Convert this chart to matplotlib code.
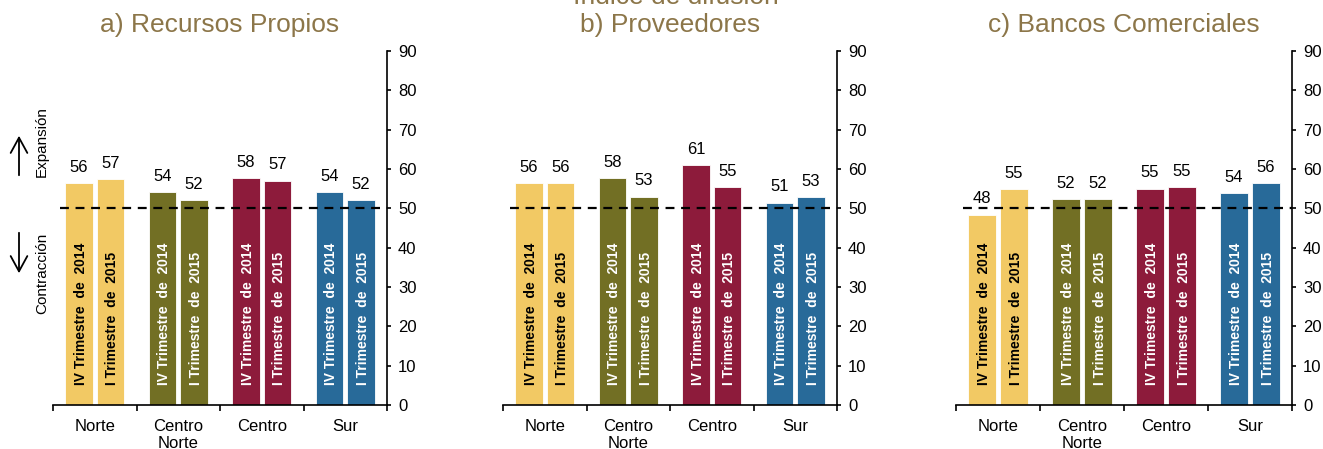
#! /usr/bin/env python
# -*- coding: utf-8 -*-
"""
Indice de difusion por region: recursos propios, proveedores y bancos
"""
# Importing Modules
import numpy as np
import matplotlib
matplotlib.use('Agg')
import matplotlib.pyplot as plt

## Data
regions      = ['Norte', 'Centro\nNorte', 'Centro', 'Sur']
period_names = ['IV Trimestre  de  2014', 'I Trimestre  de  2015']
panel_titles = ['a) Recursos Propios', 'b) Proveedores',
                'c) Bancos Comerciales']
# Values per panel: (IV 2014, I 2015) for each region
propios_iv14   = [56.4, 54.1, 57.6, 54.1]
propios_i15    = [57.4, 52.0, 57.0, 52.0]
proveed_iv14   = [56.4, 57.6, 61.0, 51.4]
proveed_i15    = [56.4, 53.0, 55.4, 52.9]
bancos_iv14    = [48.4, 52.4, 55.0, 53.9]
bancos_i15     = [54.9, 52.4, 55.4, 56.4]
yticks_vals    = [0, 10, 20, 30, 40, 50, 60, 70, 80, 90]
threshold      = 50

## Styles
region_colors = ['#F2C964', '#726F24', '#8D1B3B', '#286A99']
text_colors   = ['black', 'white', 'white', 'white']
title_color   = '#8C7649'
font_family   = ['Liberation Sans', 'DejaVu Sans']


def plot_panel(ax, vals_iv, vals_i, title):
    """
    Plots one panel of paired bars per region

    Parameters
    -----------
    ax : `matplotlib.axes.Axes`
        Axis to draw on
    vals_iv, vals_i : `list`
        Values for IV 2014 and I 2015
    title : `str`
        Title of the panel
    """
    x      = np.arange(len(regions))
    width  = 0.33
    offset = 0.19
    for kk, vals in enumerate([vals_iv, vals_i]):
        xpos = x + (2 * kk - 1) * offset
        bars = ax.bar(xpos, vals, width, color=region_colors,
                      edgecolor='white', linewidth=0.6, zorder=2)
        for jj, bar in enumerate(bars):
            # Value labels
            ax.annotate('{0:.0f}'.format(vals[jj]),
                        xy=(bar.get_x() + bar.get_width() / 2.,
                            bar.get_height()),
                        xytext=(0, 6), textcoords='offset points',
                        ha='center', va='bottom', fontsize=12)
            # Period labels inside bars
            ax.text(bar.get_x() + bar.get_width() / 2. + 0.02, 5,
                    period_names[kk], rotation=90, ha='center',
                    va='bottom', fontsize=10, fontweight='bold',
                    color=text_colors[jj], zorder=3)
    #
    # Threshold line
    ax.hlines(threshold, -0.42, 3.5, colors='black', linestyles=(0, (4, 3)),
              linewidth=1.6, zorder=4)
    #
    # Axes
    ax.set_xlim(-0.5, 3.5)
    ax.set_ylim(0, 90)
    ax.yaxis.tick_right()
    ax.set_yticks(yticks_vals)
    ax.tick_params(axis='y', direction='out', length=3, width=1.2,
                   labelsize=12, pad=5)
    ax.set_xticks(x)
    ax.set_xticklabels(regions, fontsize=12, linespacing=1.2)
    ax.tick_params(axis='x', which='major', length=0, pad=10)
    ax.set_xticks(np.arange(-0.5, 4.0, 1.0), minor=True)
    ax.tick_params(axis='x', which='minor', direction='out', length=4,
                   width=1.2)
    for side in ['top', 'left']:
        ax.spines[side].set_visible(False)
    ax.spines['right'].set_linewidth(1.2)
    ax.spines['bottom'].set_linewidth(1.2)
    ax.set_facecolor('white')


def main():
    """
    Main function
    """
    plt.rcParams['font.family'] = font_family
    fig = plt.figure(figsize=(13.23, 4.49), dpi=100)
    fig.patch.set_facecolor('white')
    #
    # Panel positions
    lefts  = [53. / 1323, 503. / 1323, 956. / 1323]
    widths = [334. / 1323, 334. / 1323, 336. / 1323]
    bottom = 1. - 405. / 449
    height = (405. - 51.) / 449
    data = [(propios_iv14, propios_i15),
            (proveed_iv14, proveed_i15),
            (bancos_iv14, bancos_i15)]
    for ii in range(3):
        ax = fig.add_axes([lefts[ii], bottom, widths[ii], height])
        plot_panel(ax, data[ii][0], data[ii][1], panel_titles[ii])
        fig.text(lefts[ii] + widths[ii] / 2., 1. - 32. / 449,
                 panel_titles[ii], ha='center', va='baseline',
                 fontsize=19, color=title_color)
    #
    # Main title (partially cut at the top, as in the original)
    fig.text(0.511, 1. - 4. / 449, u'Índice de difusión', ha='center',
             va='baseline', fontsize=19, color=title_color)
    #
    # Expansion / contraction indicators
    fig.text(42. / 1323, 1. - 142. / 449, u'Expansión', rotation=90,
             ha='center', va='center', fontsize=11)
    fig.text(42. / 1323, 1. - 273. / 449, u'Contracción', rotation=90,
             ha='center', va='center', fontsize=11)
    arrow_style = '->,head_length=11,head_width=6'
    fig.patches.append(matplotlib.patches.FancyArrowPatch(
        (19. / 1323, 1. - 178. / 449), (19. / 1323, 1. - 133. / 449),
        transform=fig.transFigure, arrowstyle=arrow_style,
        mutation_scale=1, linewidth=1.3, color='black'))
    fig.patches.append(matplotlib.patches.FancyArrowPatch(
        (19. / 1323, 1. - 230. / 449), (19. / 1323, 1. - 276. / 449),
        transform=fig.transFigure, arrowstyle=arrow_style,
        mutation_scale=1, linewidth=1.3, color='black'))
    #
    # Saving figure
    fig.savefig('out.png', dpi=100, facecolor='white')


# Main function
if __name__ == '__main__':
    main()
